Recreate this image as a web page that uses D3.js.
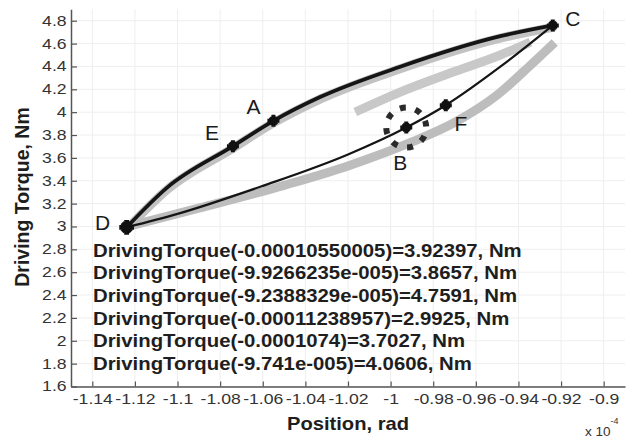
<!DOCTYPE html>
<html>
<head>
<meta charset="utf-8">
<script src="https://cdn.jsdelivr.net/npm/d3@7"></script>
<style>
  html, body { margin: 0; padding: 0; background: #fff; }
  svg { display: block; }
</style>
</head>
<body>
<div id="chart"></div>
<script>
// marked points (x in units of 1e-4 rad, torque in Nm)
const pointNames = ['A', 'B', 'C', 'D', 'E', 'F'];
const pointX = [-1.0550005, -0.99266235, -0.92388329, -1.1238957, -1.074, -0.9741];
const pointY = [3.92397, 3.8657, 4.7591, 2.9925, 3.7027, 4.0606];
const pointXText = ['-0.00010550005', '-9.9266235e-005', '-9.2388329e-005', '-0.00011238957', '-0.0001074', '-9.741e-005'];
const pointYText = ['3.92397', '3.8657', '4.7591', '2.9925', '3.7027', '4.0606'];

// black curves
const upperX = [-1.1239, -1.1049, -1.074, -1.055, -1.0331, -0.9955, -0.9485, -0.9239];
const upperY = [2.9925, 3.34, 3.7027, 3.924, 4.132, 4.3975, 4.665, 4.7591];
const lowerX = [-0.9239, -0.9485, -0.9741, -0.99266, -1.02, -1.06, -1.1, -1.1239];
const lowerY = [4.7591, 4.3975, 4.0606, 3.8657, 3.63, 3.355, 3.11, 2.9925];

// grey bands
const bandLowX = [-1.1232, -1.09, -1.05, -1.02, -0.99, -0.97, -0.95, -0.935, -0.923];
const bandLowY = [3.0, 3.16, 3.36, 3.53, 3.74, 3.91, 4.15, 4.40, 4.61];
const bandInX = [-1.0166, -0.9955, -0.972, -0.9485, -0.9344];
const bandInY = [4.0012, 4.176, 4.342, 4.5, 4.6136];

const xTicks = [-1.14, -1.12, -1.1, -1.08, -1.06, -1.04, -1.02, -1, -0.98, -0.96, -0.94, -0.92, -0.9];
const yTicks = [1.6, 1.8, 2, 2.2, 2.4, 2.6, 2.8, 3, 3.2, 3.4, 3.6, 3.8, 4, 4.2, 4.4, 4.6, 4.8];

const width = 633, height = 438;
const font = "'Liberation Sans', Arial, Helvetica, sans-serif";
const stretch = 1.26;

const x = d3.scaleLinear().domain([-1.15, -0.89]).range([71, 625]);
const y = d3.scaleLinear().domain([1.6, 4.9]).range([386.5, 9.3]);

const svg = d3.create("svg")
    .attr("width", width)
    .attr("height", height)
    .attr("viewBox", [0, 0, width, height])
    .style("font-family", font);

svg.append("rect").attr("width", width).attr("height", height).attr("fill", "#fff");

// faint grid (barely visible in the scan)
const grid = svg.append("g").attr("stroke", "#eeeeee").attr("stroke-width", 1);
grid.selectAll(".gx").data(xTicks).join("line")
    .attr("x1", d => x(d)).attr("x2", d => x(d))
    .attr("y1", y.range()[1]).attr("y2", y.range()[0]);
grid.selectAll(".gy").data(yTicks).join("line")
    .attr("x1", x.range()[0]).attr("x2", x.range()[1])
    .attr("y1", d => y(d)).attr("y2", d => y(d));

const line = d3.line().x(d => x(d[0])).y(d => y(d[1])).curve(d3.curveMonotoneX);
const zip = (a, b) => a.map((v, i) => [v, b[i]]);

// grey bands behind the curves
svg.append("path")
    .attr("d", line(zip(upperX, upperY)))
    .attr("transform", "translate(0,2)")
    .attr("fill", "none").attr("stroke", "#c2c2c2").attr("stroke-width", 9)
    .attr("stroke-linecap", "round");
svg.append("path")
    .attr("d", line(zip(bandLowX, bandLowY)))
    .attr("fill", "none").attr("stroke", "#bdbdbd").attr("stroke-width", 9)
    .attr("stroke-linecap", "butt");
svg.append("path")
    .attr("d", line(zip(bandInX, bandInY)))
    .attr("fill", "none").attr("stroke", "#c8c8c8").attr("stroke-width", 9)
    .attr("stroke-linecap", "butt");

// black curves
svg.append("path")
    .attr("d", line(zip(lowerX, lowerY)))
    .attr("fill", "none").attr("stroke", "#151515").attr("stroke-width", 2.2);
svg.append("path")
    .attr("d", line(zip(upperX, upperY)))
    .attr("fill", "none").attr("stroke", "#151515").attr("stroke-width", 3.8);

// dashed ring around B
const bIdx = pointNames.indexOf('B');
const bx = x(pointX[bIdx]), by = y(pointY[bIdx]);
svg.append("circle")
    .attr("cx", bx).attr("cy", by)
    .attr("r", 20)
    .attr("fill", "none").attr("stroke", "#2a2a2a").attr("stroke-width", 6)
    .attr("stroke-dasharray", "6 9.7")
    .attr("transform", `rotate(-20,${bx},${by})`);

// markers: chunky asterisk made of two crosses
const markers = svg.append("g").selectAll("g").data(pointNames).join("g")
    .attr("transform", (d, i) => `translate(${x(pointX[i])},${y(pointY[i])})`)
    .attr("fill", "#111");
markers.append("path").attr("d", d => d3.symbol(d3.symbolCross, d === 'D' ? 120 : 80)());
markers.append("path").attr("transform", "rotate(45)")
    .attr("d", d => d3.symbol(d3.symbolCross, d === 'D' ? 90 : 55)());

// point letters
const letterOffset = { A: [-20, -14], B: [-6, 35], C: [20, -7], D: [-24, -5], E: [-21, -14], F: [15, 18] };
svg.append("g").selectAll("text").data(pointNames).join("text")
    .attr("x", (d, i) => x(pointX[i]) + letterOffset[d][0])
    .attr("y", (d, i) => y(pointY[i]) + letterOffset[d][1])
    .attr("dy", "0.36em")
    .attr("text-anchor", "middle")
    .attr("font-size", 21)
    .attr("fill", "#1a1a1a")
    .text(d => d);

// data-tip annotations
svg.append("g").selectAll("text").data(pointNames).join("text")
    .attr("transform", (d, i) => `translate(93,${256.7 + i * 22.66}) scale(1.1,1)`)
    .attr("font-size", 18.5)
    .attr("font-weight", "bold")
    .attr("fill", "#1e1e1e")
    .text((d, i) => `DrivingTorque(${pointXText[i]})=${pointYText[i]}, Nm`);

// axes
const xAxis = svg.append("g")
    .attr("transform", `translate(0,${y.range()[0]})`)
    .call(d3.axisBottom(x).tickValues(xTicks).tickFormat(d3.format("")).tickSize(-5).tickSizeOuter(0).tickPadding(8));
const yAxis = svg.append("g")
    .attr("transform", `translate(${x.range()[0]},0)`)
    .call(d3.axisLeft(y).tickValues(yTicks).tickFormat(d3.format("")).tickSize(-6).tickSizeOuter(0).tickPadding(3.5));

[xAxis, yAxis].forEach(g => {
    g.select(".domain").attr("stroke", "#555").attr("stroke-width", 1.5);
    g.selectAll(".tick line").attr("stroke", "#555").attr("stroke-width", 1.2);
    g.selectAll(".tick text")
        .attr("fill", "#333")
        .attr("font-family", font)
        .attr("font-size", 14)
        .text(d => String(d));
});
xAxis.selectAll(".tick text").attr("transform", `scale(${stretch},1)`).attr("dy", "0.71em");
yAxis.selectAll(".tick text").attr("transform", `scale(${stretch},1)`);

// axis titles
svg.append("text")
    .attr("transform", `translate(${(x(-1.15) + x(-0.89)) / 2},430) scale(1.12,1)`)
    .attr("text-anchor", "middle")
    .attr("font-size", 18)
    .attr("font-weight", "bold")
    .attr("fill", "#1e1e1e")
    .text("Position, rad");

svg.append("text")
    .attr("transform", "translate(29,197) rotate(-90)")
    .attr("text-anchor", "middle")
    .attr("font-size", 19.5)
    .attr("font-weight", "bold")
    .attr("fill", "#1e1e1e")
    .text("Driving Torque, Nm");

// exponent label
const expo = svg.append("text")
    .attr("transform", "translate(585,436)")
    .attr("font-size", 13.5)
    .attr("fill", "#333");
expo.append("tspan").text("x 10");
expo.append("tspan").attr("dy", -12).attr("font-size", 9).text("-4");

d3.select("#chart").node().appendChild(svg.node());
</script>
</body>
</html>
